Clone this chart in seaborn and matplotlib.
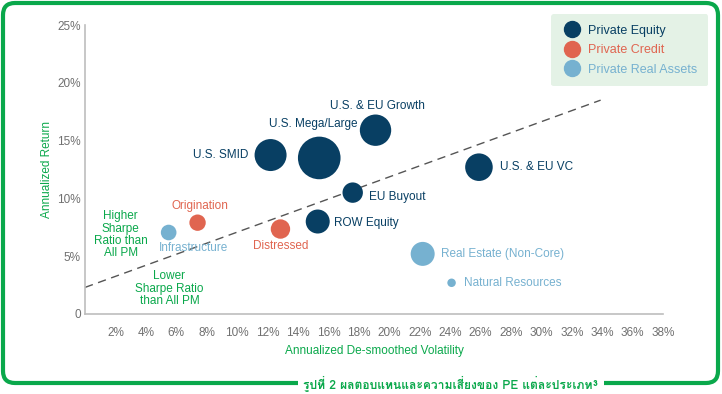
import matplotlib
matplotlib.use("Agg")
import matplotlib.pyplot as plt
import seaborn as sns
import pandas as pd
from matplotlib import font_manager
from matplotlib.ft2font import FT2Font
from matplotlib.lines import Line2D
from matplotlib.patches import FancyBboxPatch, Rectangle
from matplotlib.transforms import IdentityTransform

# data
names = ["U.S. SMID", "U.S. Mega/Large", "U.S. & EU Growth", "U.S. & EU VC",
         "EU Buyout", "ROW Equity", "Origination", "Distressed",
         "Infrastructure", "Real Estate (Non-Core)", "Natural Resources"]
groups = ["Private Equity"] * 6 + ["Private Credit"] * 2 + ["Private Real Assets"] * 3
volatility = [12.2, 15.4, 19.1, 25.9, 17.6, 15.3, 7.4, 12.85, 5.5, 22.2, 24.1]
returns = [13.75, 13.5, 15.9, 12.7, 10.5, 8.0, 7.9, 7.35, 7.05, 5.2, 2.7]
bubble = [256, 454, 246, 190, 104, 144, 67, 94, 61, 144, 18]

sharpe_x = [0, 33.9]
sharpe_y = [2.3, 18.5]

x_ticks = list(range(2, 40, 2))
y_ticks = [0, 5, 10, 15, 20, 25]

palette = {"Private Equity": "#083f63", "Private Credit": "#e06550",
           "Private Real Assets": "#76b1d0"}
green = "#0aa84b"

df = pd.DataFrame({"name": names, "group": groups, "vol": volatility,
                   "ret": returns, "bubble": bubble})


def find_thai_font():
    for f in font_manager.fontManager.ttflist:
        try:
            if 0x0E23 in FT2Font(f.fname).get_charmap():
                return f.name
        except Exception:
            pass
    return "DejaVu Sans"


thai_font = find_thai_font()

sns.set_theme(style="white")
plt.rcParams["font.family"] = ["Liberation Sans", "DejaVu Sans"]

fig = plt.figure(figsize=(7.22, 3.94), dpi=100)
ax = fig.add_axes([85 / 722, 80 / 394, 578 / 722, 289 / 394])

k = 2.0736
sns.scatterplot(data=df, x="vol", y="ret", hue="group", palette=palette,
                size="bubble", sizes=(min(bubble) * k, max(bubble) * k),
                size_norm=(min(bubble), max(bubble)), linewidth=0, alpha=1,
                legend=False, ax=ax, zorder=3)
ax.plot(sharpe_x, sharpe_y, color="#555555", lw=1, dashes=(6, 4), zorder=2)

# label placement: (dx px, dy px, ha)
place = {
    "U.S. SMID": (-22, 0, "right"),
    "U.S. Mega/Large": (-6, 34, "center"),
    "U.S. & EU Growth": (2, 24, "center"),
    "U.S. & EU VC": (21, 0, "left"),
    "EU Buyout": (16, -4, "left"),
    "ROW Equity": (16, -1, "left"),
    "Origination": (2, 17, "center"),
    "Distressed": (0, -17, "center"),
    "Infrastructure": (25, -15, "center"),
    "Real Estate (Non-Core)": (18, 0, "left"),
    "Natural Resources": (12, 0, "left"),
}
for _, r in df.iterrows():
    dx, dy, ha = place[r["name"]]
    ax.annotate(r["name"], (r["vol"], r["ret"]), xytext=(dx, dy),
                textcoords="offset pixels", ha=ha, va="center",
                fontsize=8.5, color=palette[r["group"]])

ax.text(2.35, 6.85, "Higher\nSharpe\nRatio than\nAll PM", ha="center", va="center",
        fontsize=8.5, color=green, linespacing=1.05)
ax.text(5.55, 2.2, "Lower\nSharpe Ratio\nthan All PM", ha="center", va="center",
        fontsize=8.5, color=green, linespacing=1.05)

ax.set_xlim(0, 38)
ax.set_ylim(0, 25)
ax.set_xticks(x_ticks)
ax.set_xticklabels([f"{t}%" for t in x_ticks])
ax.set_yticks(y_ticks)
ax.set_yticklabels(["0" if t == 0 else f"{t}%" for t in y_ticks])
ax.tick_params(axis="both", length=0, labelsize=8.5, labelcolor="#707070")
ax.tick_params(axis="x", pad=9)
ax.tick_params(axis="y", pad=3)
for s in ["top", "right"]:
    ax.spines[s].set_visible(False)
for s in ["left", "bottom"]:
    ax.spines[s].set_color("#bdbdbd")
    ax.spines[s].set_linewidth(1.2)
ax.set_xlabel("Annualized De-smoothed Volatility", color=green, fontsize=8.5, labelpad=5)
ax.set_ylabel("Annualized Return", color=green, fontsize=8.5, labelpad=3)

handles = [Line2D([], [], marker="o", ls="", markersize=11.5, color=palette[g])
           for g in palette]
leg = fig.legend(handles, list(palette), loc="upper right",
                 bbox_to_anchor=(708 / 722, 1 - 14 / 394), frameon=True,
                 facecolor="#e4f2e6", edgecolor="none", fancybox=True,
                 fontsize=9, labelspacing=0.6, handlelength=1.6, handletextpad=0.5,
                 borderpad=0.85, borderaxespad=0, framealpha=1)
for t, g in zip(leg.get_texts(), palette):
    t.set_color(palette[g])

# green frame with caption gap
frame = FancyBboxPatch((3, 11), 715, 380, boxstyle="round,pad=0,rounding_size=12",
                       transform=IdentityTransform(), fill=False,
                       edgecolor=green, linewidth=3, figure=fig)
fig.patches.append(frame)
gap = Rectangle((298, 4), 306, 14, transform=IdentityTransform(),
                facecolor="white", edgecolor="none", figure=fig, zorder=5)
fig.patches.append(gap)
fig.text(451 / 722, 6 / 394, "รูปที่ 2 ผลตอบแทนและความเสี่ยงของ PE แต่ละประเภท³",
         ha="center", va="baseline", fontsize=8.7, fontweight="bold", color=green,
         family=[thai_font, "DejaVu Sans"], zorder=6)

fig.savefig("out.png", dpi=100)
